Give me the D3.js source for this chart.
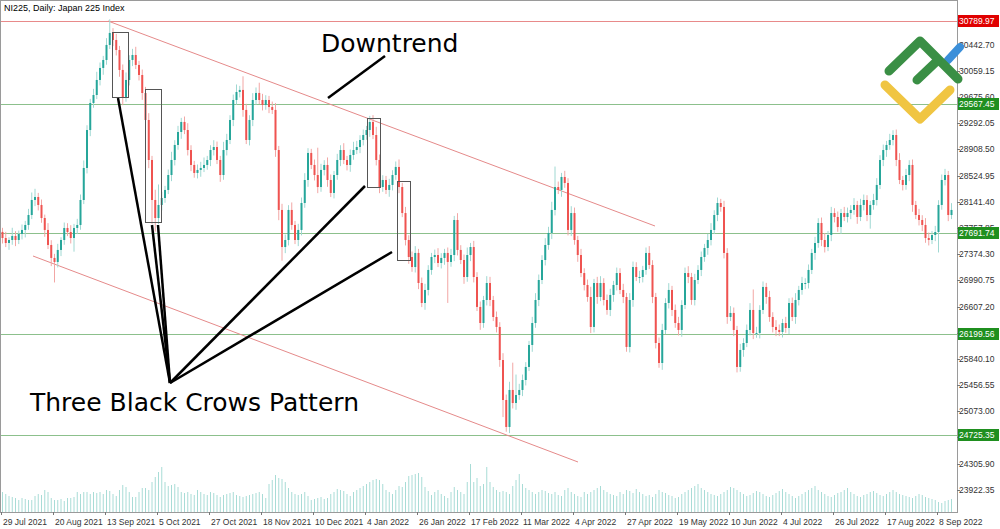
<!DOCTYPE html>
<html><head><meta charset="utf-8">
<script src="https://cdn.jsdelivr.net/npm/d3@7/dist/d3.min.js"></script>
<style>body{margin:0;background:#fff}svg{display:block;font-family:"Liberation Sans",Arial,sans-serif}</style>
</head><body><svg id="c" width="1000" height="529"></svg>
<script>
const closes=[27611,27538,27582,27641,27582,27670,27729,27802,27948,28168,
28212,28095,27904,27729,27509,27319,27260,27436,27582,27758,
27699,27611,27758,27802,28168,28637,29193,29589,29706,29926,
30102,30219,30439,30615,30512,30365,30073,29677,29926,30219,
30292,30146,29999,29735,29340,28754,28168,27904,28095,28197,
28315,28534,28754,28974,29164,29311,29193,28900,28681,28564,
28608,28637,28681,28754,28900,28944,28754,28534,28900,29047,
29340,29633,29750,29780,29487,29047,29340,29633,29736,29633,
29560,29633,29530,29487,28900,28022,27479,27582,28022,27802,
27582,27729,28124,28461,28857,28681,28534,28358,28608,28681,
28461,28271,28534,28754,28900,28754,28681,28827,28900,28944,
29047,29120,29193,29311,29120,28754,28358,28461,28315,28388,
28534,28652,28358,27977,27582,27333,27186,27392,26952,26659,
26850,27143,27333,27362,27245,27319,27392,27260,27362,27875,
27436,27289,27040,27362,27479,27040,26601,26366,26703,26952,
26703,26454,26308,25824,25238,24843,25385,25194,25311,25385,
25531,25722,26044,26366,26703,26996,27289,27509,27685,28022,
28358,28315,28505,28417,27729,27977,27582,27362,27098,26923,
26747,26308,26952,26747,26952,26703,26557,26777,26923,27098,
26850,26747,26015,26703,27186,27040,27040,27143,27392,27216,
26747,26073,25780,26264,26659,26850,26557,26366,26264,26630,
27098,27040,26703,26996,27143,27333,27465,27582,27729,27948,
28124,28066,27392,26454,26513,26264,25722,25971,26073,26264,
26557,26220,26220,26557,26894,26747,26454,26308,26264,26234,
26366,26293,26659,26454,26703,26850,26952,26952,27143,27392,
27538,27831,27582,27479,27655,27977,27919,27772,27977,27919,
27977,28022,28095,27919,28095,28168,27948,28095,28168,28388,
28754,28900,28974,29047,29120,28754,28461,28388,28534,28681,
28095,27948,27875,27802,27611,27582,27655,27699,28095,28461,
28534,27948,28022];
const opens=[27700].concat(closes.slice(0,-1));
const highExt=[60,90,40,120,70,50,80,60,90,110,120,60,80,50,100,70,60,90,40,80,
70,100,60,90,80,110,70,60,90,120,80,60,100,200,70,90,60,80,110,70,
90,120,60,80,90,100,60,150,300,90,60,80,120,70,90,60,80,100,70,60,
80,90,110,60,70,100,80,60,120,90,70,80,110,60,200,90,70,100,80,150,
90,70,60,80,100,60,90,80,70,110,60,90,80,100,70,60,80,400,90,70,
110,80,60,90,70,100,60,80,120,90,70,80,60,90,100,120,80,70,60,90,
70,80,110,60,90,70,80,100,60,80,90,70,60,80,100,70,60,80,90,60,
100,70,80,110,60,90,70,80,60,100,90,60,80,70,100,80,120,400,300,90,
80,70,60,90,100,80,70,100,90,120,300,80,60,90,70,100,80,60,90,70,
80,150,60,90,100,70,80,90,60,80,70,90,60,100,80,70,90,60,80,100,
70,60,80,90,70,100,60,80,90,70,80,100,60,90,70,80,60,90,100,70,
80,60,90,70,100,80,60,90,70,80,100,300,90,70,80,60,90,70,100,80,
60,90,70,80,100,60,90,70,80,60,90,70,80,100,60,90,70,80,60,90,
80,70,100,60,90,80,70,60,90,100,70,80,60,90,70,80,100,60,90,70,
80,60,90,70,100,80,60,90,70,80,90,60,100];
const lowExt=[80,60,100,70,90,60,80,110,70,60,90,80,70,100,60,120,300,80,90,70,
60,80,200,90,70,60,80,90,70,60,80,100,70,60,90,80,100,120,70,80,
90,60,80,100,70,120,350,200,90,80,70,60,90,80,70,100,60,80,90,70,
80,100,60,70,90,80,60,100,70,80,60,90,70,80,100,60,80,90,70,60,
80,70,90,60,100,150,200,90,80,70,60,90,80,70,100,60,80,90,70,80,
100,60,80,70,90,60,80,100,70,60,90,80,70,100,60,80,90,70,60,100,
80,70,90,60,80,100,70,80,90,60,100,80,70,90,60,80,100,600,70,90,
80,60,100,70,90,80,60,100,70,80,90,60,80,100,250,70,90,80,100,70,
90,80,60,100,70,90,60,80,70,90,80,60,100,70,80,90,70,100,60,80,
70,90,80,100,60,80,70,90,100,80,60,90,70,80,100,60,90,80,70,60,
90,80,70,100,60,80,90,70,80,100,60,90,70,80,60,90,70,100,80,60,
90,70,80,100,60,90,80,70,100,60,80,90,70,80,60,100,70,80,90,60,
80,70,90,60,100,80,70,90,80,60,100,70,90,80,60,90,80,70,100,60,
80,90,70,100,60,80,90,200,70,80,60,90,100,70,80,90,60,80,70,90,
100,60,80,90,70,80,60,90,300,70,80,90,60];
const volume=[20,18,16,15,14,12,14,13,12,12,16,18,17,22,20,14,12,12,13,11,
14,14,15,20,18,20,20,18,20,19,20,18,22,21,18,16,22,27,25,20,
15,15,20,24,24,22,30,35,40,45,30,26,27,28,25,20,19,20,18,17,
22,20,18,17,20,19,17,15,17,18,19,20,17,16,15,16,17,18,19,20,
18,14,28,32,37,34,33,30,24,20,18,17,18,20,16,12,13,14,15,13,
14,18,20,23,22,21,18,16,20,22,24,26,28,30,32,33,32,28,22,20,
18,22,26,25,30,36,37,38,39,35,25,21,17,20,22,18,16,14,20,25,
22,20,18,30,48,30,34,26,28,45,30,25,22,20,21,20,18,26,32,38,
28,24,22,20,18,20,22,21,19,18,20,17,16,22,24,20,18,16,15,20,
18,20,22,24,26,22,20,18,17,16,20,18,22,21,19,23,20,18,16,17,
15,18,22,20,19,17,16,14,15,18,20,22,24,26,28,24,22,20,18,17,
16,18,20,22,25,24,22,20,18,16,17,19,21,20,18,16,15,17,19,21,
23,20,18,16,14,16,18,20,22,24,26,22,20,18,16,15,17,19,20,22,
24,20,18,16,15,17,18,20,21,19,17,16,18,20,22,20,18,17,16,15,
14,16,18,17,15,14,13,12,10,9,11,12,13];
const xLabels=["29 Jul 2021","20 Aug 2021","13 Sep 2021","5 Oct 2021","27 Oct 2021","18 Nov 2021","10 Dec 2021","4 Jan 2022","26 Jan 2022","17 Feb 2022","11 Mar 2022","4 Apr 2022","27 Apr 2022","19 May 2022","10 Jun 2022","4 Jul 2022","26 Jul 2022","17 Aug 2022","8 Sep 2022"];
const yTicks=[30442.70,30059.15,29675.60,29292.05,28908.50,28524.95,28141.40,27757.85,27374.30,26990.75,26607.20,26223.65,25840.10,25456.55,25073.00,24689.45,24305.90,23922.35];
const levels=[{v:30789.97,c:"#e00000",l:"#e88a8a"},{v:29567.45,c:"#1f8f1f",l:"#8cc08c"},{v:27691.74,c:"#1f8f1f",l:"#8cc08c"},{v:26199.56,c:"#1f8f1f",l:"#8cc08c"},{v:24725.35,c:"#1f8f1f",l:"#8cc08c"}];
const barsPerLabel=16;

const svg=d3.select("#c");
const N=closes.length;
const x=d3.scaleLinear().domain([0,N-1]).range([2,2+3.25*(N-1)]);
const y=d3.scaleLinear().domain([24725.35,30789.97]).range([435,21]);
const yv=d3.scaleLinear().domain([0,50]).range([512,462]);
const R=957,B=512;
svg.append("rect").attr("x",0.5).attr("y",0.5).attr("width",R).attr("height",B).attr("fill","none").attr("stroke","#9a9a9a");
svg.append("text").attr("x",4).attr("y",11).attr("font-size",9).attr("fill","#000").text("NI225, Daily:  Japan 225 Index");
svg.append("g").selectAll("line").data(volume.slice(0,N)).join("line")
 .attr("x1",(d,i)=>x(i)+0.5).attr("x2",(d,i)=>x(i)+0.5).attr("y1",yv(0)).attr("y2",d=>yv(d))
 .attr("stroke","#a8dcd6").attr("stroke-width",1);
levels.forEach(l=>svg.append("line").attr("x1",1).attr("x2",R).attr("y1",Math.round(y(l.v))+0.5).attr("y2",Math.round(y(l.v))+0.5).attr("stroke",l.l).attr("stroke-width",1));
const tl=[[[108,21],[655,226]],[[33,256],[578,462]]];
tl.forEach(s=>svg.append("line").attr("x1",s[0][0]).attr("y1",s[0][1]).attr("x2",s[1][0]).attr("y2",s[1][1]).attr("stroke","#e58a8a").attr("stroke-width",1));
const g=svg.append("g");
const data=closes.map((c,i)=>({o:opens[i],c,h:Math.max(opens[i],c)+highExt[i%highExt.length],l:Math.min(opens[i],c)-lowExt[i%lowExt.length],i}));
data.forEach(d=>{
 const col=d.c>=d.o?"#26a69a":"#ef5350";
 const wc=d.c>=d.o?"#9fd8d2":"#f2a6a4";
 const cx=x(d.i)+0.5;
 g.append("line").attr("x1",cx).attr("x2",cx).attr("y1",y(d.h)).attr("y2",y(d.l)).attr("stroke",wc).attr("stroke-width",1);
 const t=y(Math.max(d.o,d.c)),b=y(Math.min(d.o,d.c));
 g.append("rect").attr("x",x(d.i)-0.5).attr("y",t).attr("width",2).attr("height",Math.max(1,b-t)).attr("fill",col);
});
[[112,32,16,65],[145,89,16,133],[367,118,13,69],[397,181,13,79]].forEach(r=>svg.append("rect").attr("x",r[0]+0.5).attr("y",r[1]+0.5).attr("width",r[2]).attr("height",r[3]).attr("fill","none").attr("stroke","#555").attr("stroke-width",1));
[[118,98],[152,225],[158,225],[365,186],[392,252]].forEach(p=>svg.append("line").attr("x1",170).attr("y1",383).attr("x2",p[0]).attr("y2",p[1]).attr("stroke","#000").attr("stroke-width",2.5));
svg.append("line").attr("x1",328).attr("y1",98).attr("x2",385).attr("y2",56).attr("stroke","#000").attr("stroke-width",2.5);
svg.append("text").attr("x",321).attr("y",52).attr("font-size",25).attr("font-family","DejaVu Sans").text("Downtrend");
svg.append("text").attr("x",30).attr("y",411).attr("font-size",25).attr("font-family","DejaVu Sans").text("Three Black Crows Pattern");
yTicks.forEach(v=>{const yy=Math.round(y(v));
 svg.append("line").attr("x1",R).attr("x2",R+3).attr("y1",yy+0.5).attr("y2",yy+0.5).attr("stroke","#777");
 svg.append("text").attr("x",R+2).attr("y",yy+3).attr("font-size",8.5).attr("fill","#333").text(v.toFixed(2));});
levels.forEach(l=>{const yy=Math.round(y(l.v));
 svg.append("rect").attr("x",R+1).attr("y",yy-6).attr("width",41).attr("height",12).attr("fill",l.c);
 svg.append("text").attr("x",R+2).attr("y",yy+3).attr("font-size",8.5).attr("fill","#fff").text(l.v.toFixed(2));});
xLabels.forEach((t,k)=>{const xx=x(k*barsPerLabel)-1;
 svg.append("line").attr("x1",xx+0.5).attr("x2",xx+0.5).attr("y1",B).attr("y2",B+3).attr("stroke","#777");
 svg.append("text").attr("x",xx+2).attr("y",525).attr("font-size",8.5).attr("fill","#333").text(t);});
const lg=svg.append("g").attr("fill","none").attr("stroke-linecap","round").attr("stroke-linejoin","round").attr("stroke-width",9);
lg.append("path").attr("d","M885,85 L920,119 L950,90").attr("stroke","#f0c542");
lg.append("path").attr("d","M948,60 L960,47").attr("stroke","#3b8fd9").attr("stroke-width",8);
lg.append("path").attr("d","M889,71 L920,41 L958,79").attr("stroke","#3a8f45");
lg.append("path").attr("d","M917,80 L937,61").attr("stroke","#3a8f45");
</script></body></html>
